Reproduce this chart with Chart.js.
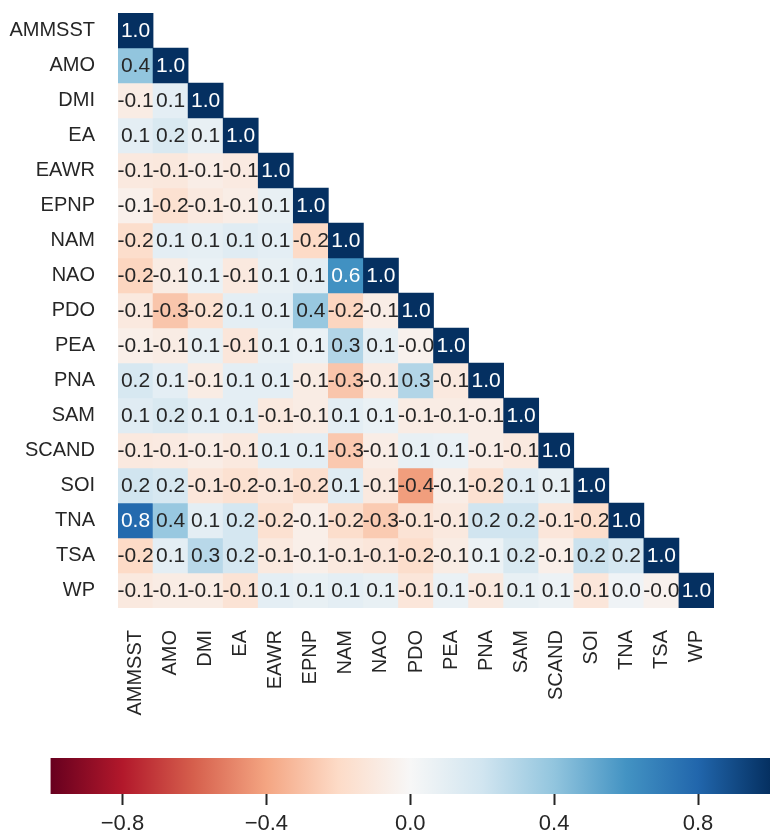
<!DOCTYPE html>
<html>
<head>
<meta charset="utf-8">
<script src="https://cdn.jsdelivr.net/npm/chart.js@4.4.1/dist/chart.umd.min.js"></script>
<style>
	body { margin: 0; background: #fff; }
	#heat { position: absolute; left: 0; top: 0; }
	#cbar { position: absolute; left: 0; top: 720px; }
</style>
</head>
<body>
<canvas id="heat" width="770" height="720"></canvas>
<canvas id="cbar" width="770" height="115"></canvas>
<script>
/// Climate index correlation matrix (lower triangle, row by row)
var names = ['AMMSST', 'AMO', 'DMI', 'EA', 'EAWR', 'EPNP', 'NAM', 'NAO', 'PDO',
             'PEA', 'PNA', 'SAM', 'SCAND', 'SOI', 'TNA', 'TSA', 'WP'];

var corr = [
	[ 1.00],
	[ 0.40,  1.00],
	[-0.08,  0.10,  1.00],
	[ 0.10,  0.16,  0.08,  1.00],
	[-0.10, -0.11, -0.07, -0.09,  1.00],
	[-0.05, -0.16, -0.10, -0.07,  0.08,  1.00],
	[-0.18,  0.10,  0.09,  0.12,  0.10, -0.20,  1.00],
	[-0.22, -0.08,  0.07, -0.10,  0.08,  0.10,  0.61,  1.00],
	[-0.10, -0.28, -0.16,  0.10,  0.10,  0.38, -0.22, -0.07,  1.00],
	[-0.06, -0.08,  0.08, -0.12,  0.08,  0.07,  0.30,  0.09, -0.04,  1.00],
	[ 0.17,  0.10, -0.08,  0.10,  0.10, -0.08, -0.28, -0.09,  0.30, -0.10,  1.00],
	[ 0.12,  0.16,  0.10,  0.10, -0.10, -0.08,  0.10,  0.07, -0.08, -0.08, -0.07,  1.00],
	[-0.10, -0.09, -0.07, -0.10,  0.10,  0.10, -0.27, -0.07,  0.08,  0.07, -0.07, -0.10,  1.00],
	[ 0.20,  0.17, -0.12, -0.16, -0.12, -0.17,  0.12, -0.10, -0.42, -0.07, -0.16,  0.12,  0.08,  1.00],
	[ 0.78,  0.38,  0.10,  0.18, -0.16, -0.06, -0.18, -0.26, -0.14, -0.10,  0.20,  0.20, -0.12, -0.18,  1.00],
	[-0.20,  0.10,  0.28,  0.18, -0.10, -0.06, -0.10, -0.12, -0.18, -0.08,  0.06,  0.16, -0.06,  0.22,  0.18,  1.00],
	[-0.10, -0.08, -0.08, -0.14,  0.10,  0.08,  0.10,  0.08, -0.12,  0.07, -0.10,  0.08,  0.06, -0.12,  0.04, -0.04,  1.00]
];

var cbarTicks = [-0.8, -0.4, 0.0, 0.4, 0.8];

// matplotlib RdBu, -1 .. 1
var rdbu = ['#67001f', '#b2182b', '#d6604d', '#f4a582', '#fddbc7', '#f7f7f7',
            '#d1e5f0', '#92c5de', '#4393c3', '#2166ac', '#053061'];

var textDark = '#262626';
var fontFamily = "'Liberation Sans', Arial, sans-serif";

function hexToRgb(h) {
	return [parseInt(h.substr(1, 2), 16), parseInt(h.substr(3, 2), 16), parseInt(h.substr(5, 2), 16)];
}

function cmapRgb(v) {
	var t = (v + 1) / 2 * 10;
	if (t < 0) t = 0;
	if (t > 10) t = 10;
	var i = Math.min(Math.floor(t), 9);
	var f = t - i;
	var a = hexToRgb(rdbu[i]), b = hexToRgb(rdbu[i + 1]);
	return [0, 1, 2].map(function(k) { return Math.round(a[k] + (b[k] - a[k]) * f); });
}

function cmap(v) {
	var c = cmapRgb(v);
	return 'rgb(' + c[0] + ',' + c[1] + ',' + c[2] + ')';
}

// seaborn style: white text on dark cells
function annotColor(v) {
	var c = cmapRgb(v).map(function(x) {
		x = x / 255;
		return x <= 0.03928 ? x / 12.92 : Math.pow((x + 0.055) / 1.055, 2.4);
	});
	var lum = 0.2126 * c[0] + 0.7152 * c[1] + 0.0722 * c[2];
	return lum > 0.408 ? textDark : '#ffffff';
}

// One dataset per row, floating bars span one row on the y scale
var heatDatasets = corr.map(function(row, r) {
	return {
		label: names[r],
		data: names.map(function(n, c) { return c <= r ? [r - 0.5, r + 0.5] : null; }),
		backgroundColor: names.map(function(n, c) { return c <= r ? cmap(row[c]) : 'rgba(0,0,0,0)'; }),
		borderWidth: 0,
		grouped: false,
		barPercentage: 1.0,
		categoryPercentage: 1.0
	};
});

var annotPlugin = {
	id: 'annot',
	afterDatasetsDraw: function(chart) {
		var ctx = chart.ctx;
		ctx.save();
		ctx.font = '21px ' + fontFamily;
		ctx.textAlign = 'center';
		ctx.textBaseline = 'middle';
		chart.data.datasets.forEach(function(ds, r) {
			var meta = chart.getDatasetMeta(r);
			meta.data.forEach(function(bar, c) {
				if (c > r) return;
				var v = corr[r][c];
				ctx.fillStyle = annotColor(v);
				ctx.fillText(v.toFixed(1), bar.x, (bar.y + bar.base) / 2 + 1);
			});
		});
		ctx.restore();
	}
};

Chart.defaults.font.family = fontFamily;

new Chart(document.getElementById('heat'), {
	type: 'bar',
	data: { labels: names, datasets: heatDatasets },
	options: {
		responsive: false,
		animation: false,
		layout: { padding: { top: 13, right: 56, left: 0, bottom: 0 } },
		plugins: { legend: { display: false }, tooltip: { enabled: false } },
		scales: {
			x: {
				type: 'category',
				grid: { display: false, drawTicks: false },
				border: { display: false },
				ticks: { autoSkip: false, minRotation: 90, maxRotation: 90, padding: 22,
				         color: textDark, font: { size: 20 } },
				afterFit: function(s) { s.height = 112; }
			},
			y: {
				type: 'linear',
				min: -0.5,
				max: 16.5,
				reverse: true,
				grid: { display: false, drawTicks: false },
				border: { display: false },
				afterBuildTicks: function(s) { s.ticks = names.map(function(n, i) { return { value: i }; }); },
				ticks: { padding: 23, color: textDark, font: { size: 20 },
				         callback: function(v) { return names[v]; } },
				afterFit: function(s) {
					s.width = 118;
					// labels sit at cell centres, no extra room needed above/below
					s.paddingTop = 0;
					s.paddingBottom = 0;
				}
			}
		}
	},
	plugins: [annotPlugin]
});

// Colour bar
new Chart(document.getElementById('cbar'), {
	type: 'bar',
	data: {
		labels: [''],
		datasets: [{
			data: [[-1, 1]],
			borderWidth: 0,
			barPercentage: 1.0,
			categoryPercentage: 1.0,
			backgroundColor: function(context) {
				var chart = context.chart;
				if (!chart.chartArea) return null;
				var x0 = chart.scales.x.getPixelForValue(-1);
				var x1 = chart.scales.x.getPixelForValue(1);
				var g = chart.ctx.createLinearGradient(x0, 0, x1, 0);
				rdbu.forEach(function(c, i) { g.addColorStop(i / 10, c); });
				return g;
			}
		}]
	},
	options: {
		responsive: false,
		animation: false,
		indexAxis: 'y',
		layout: { padding: { top: 38, left: 50.5, right: -11, bottom: 0 } },
		plugins: { legend: { display: false }, tooltip: { enabled: false } },
		scales: {
			x: {
				type: 'linear',
				min: -1,
				max: 1,
				grid: { drawOnChartArea: false, drawTicks: true, tickLength: 11, tickWidth: 2, tickColor: textDark },
				border: { display: false },
				afterBuildTicks: function(s) { s.ticks = cbarTicks.map(function(v) { return { value: v }; }); },
				ticks: { padding: 6, color: textDark,
				         font: { family: "'Liberation Sans Narrow', 'Liberation Sans', Arial, sans-serif", size: 22 },
				         callback: function(v) { return (v < 0 ? '\u2212' : '') + Math.abs(v).toFixed(1); } },
				afterFit: function(s) { s.height = 41; }
			},
			y: { display: false }
		}
	}
});
</script>
</body>
</html>
